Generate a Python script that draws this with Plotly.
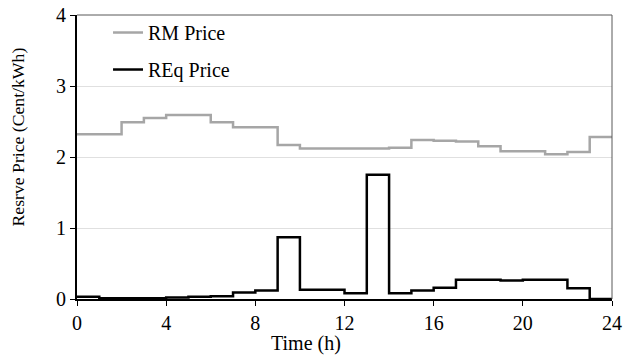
import plotly.graph_objects as go

hours = list(range(25))
rm_price = [2.32, 2.32, 2.49, 2.55, 2.59, 2.59, 2.49, 2.42, 2.42, 2.17, 2.12, 2.12,
            2.12, 2.12, 2.13, 2.24, 2.23, 2.22, 2.15, 2.08, 2.08, 2.04, 2.07, 2.28]
req_price = [0.03, 0.01, 0.01, 0.01, 0.02, 0.03, 0.04, 0.09, 0.12, 0.87, 0.13, 0.13,
             0.08, 1.75, 0.08, 0.12, 0.16, 0.27, 0.27, 0.26, 0.27, 0.27, 0.15, 0.0]
x_ticks = [0, 4, 8, 12, 16, 20, 24]
y_ticks = [0, 1, 2, 3, 4]

font_family = "Liberation Serif"
fs = 20

fig = go.Figure()
fig.add_trace(go.Scatter(x=hours, y=rm_price + [rm_price[-1]], mode="lines", name="RM Price",
                         line=dict(shape="hv", color="#a6a6a6", width=2.5),
                         legendgroup="a"))
fig.add_trace(go.Scatter(x=hours, y=req_price + [req_price[-1]], mode="lines", name="REq Price",
                         line=dict(shape="hv", color="#000000", width=2.5),
                         legendgroup="b"))

fig.update_layout(
    width=623, height=355,
    margin=dict(l=77, r=11, t=15, b=56, autoexpand=False),
    paper_bgcolor="white", plot_bgcolor="white",
    font=dict(family=font_family, size=fs, color="black"),
    showlegend=True,
    legend=dict(x=0.058, y=1.007, xanchor="left", yanchor="top",
                bgcolor="rgba(0,0,0,0)", font=dict(size=fs, family=font_family, color="black"),
                traceorder="grouped", tracegroupgap=8),
    xaxis=dict(range=[0, 24], tickvals=x_ticks, ticks="outside", ticklen=5,
               tickcolor="black", showline=True, linecolor="black", linewidth=1.5,
               showgrid=False, zeroline=False, automargin=False, ticklabeloverflow="allow",
               tickfont=dict(size=fs, family=font_family, color="black")),
    yaxis=dict(range=[0, 4], tickvals=y_ticks, ticks="outside", ticklen=5,
               tickcolor="black", showline=True, linecolor="black", linewidth=2,
               showgrid=True, gridcolor="#e0e0e0", gridwidth=1, zeroline=False, automargin=False,
               ticklabeloverflow="allow",
               tickfont=dict(size=fs, family=font_family, color="black")),
    annotations=[
        dict(text="Time (h)", xref="paper", yref="paper", x=0.428, y=0,
             xanchor="center", yanchor="top", yshift=-31, showarrow=False,
             font=dict(size=fs, family=font_family, color="black")),
        dict(text="Resrve Price (Cent/kWh)", xref="paper", yref="paper", x=0, y=0.5687,
             xanchor="center", yanchor="middle", xshift=-59, textangle=-90, showarrow=False,
             font=dict(size=17.7, family=font_family, color="black")),
    ],
)
fig.add_shape(type="line", xref="paper", yref="paper", x0=0, x1=1, y0=1, y1=1,
              line=dict(color="#595959", width=1))
fig.add_shape(type="line", xref="paper", yref="paper", x0=1, x1=1, y0=0, y1=1,
              line=dict(color="#595959", width=1))

fig.write_html("out.html", config={"displayModeBar": False},
               post_script="document.body.style.margin='0';document.body.style.overflow='hidden';")
